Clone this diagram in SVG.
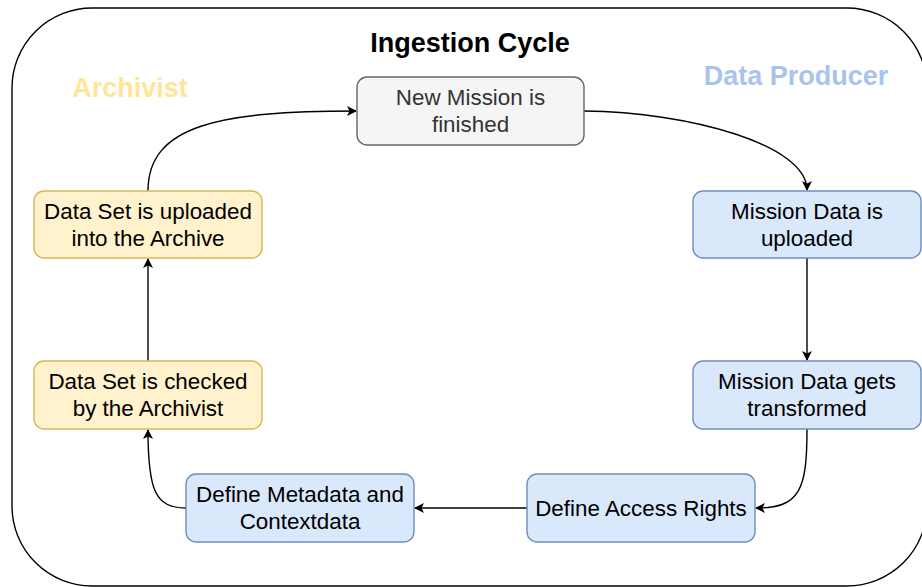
<svg xmlns="http://www.w3.org/2000/svg" width="922" height="587" viewBox="0 0 922 587">
  <defs>
    <style>
      .frame { fill: #ffffff; stroke: #000000; stroke-width: 1.4; }
      .box { stroke-width: 1.4; }
      .gray { fill: #f5f5f5; stroke: #666666; }
      .yellow { fill: #fff2cc; stroke: #d6b656; }
      .blue { fill: #dae8fc; stroke: #6c8ebf; }
      .label { font-family: "Liberation Sans", Arial, Helvetica, sans-serif; font-size: 22.4px; text-anchor: middle; fill: #000000; }
      .label.dim { fill: #333333; }
      .heading { font-family: "Liberation Sans", Arial, Helvetica, sans-serif; font-size: 27px; font-weight: bold; text-anchor: middle; }
      .edge { fill: none; stroke: #000000; stroke-width: 1.4; marker-end: url(#arrow); }
    </style>
    <marker id="arrow" viewBox="0 0 10 10" refX="9" refY="5" markerWidth="10" markerHeight="10" markerUnits="userSpaceOnUse" orient="auto">
      <path d="M0,0 L10,5 L0,10 L2.5,5 Z" fill="#000000"/>
    </marker>
  </defs>

  <!-- outer container -->
  <rect class="frame" x="12" y="8" width="915" height="578" rx="80" ry="80"/>

  <!-- headings -->
  <text class="heading" x="470" y="52" fill="#000000">Ingestion Cycle</text>
  <text class="heading" x="130" y="97" fill="#ffe599">Archivist</text>
  <text class="heading" x="796" y="85" fill="#a9c4eb">Data Producer</text>

  <!-- connectors -->
  <g id="connectors">
    <path class="edge" d="M584,111 C690,112 807,145 807,190"/>
    <path class="edge" d="M807,258 L807,360"/>
    <path class="edge" d="M807,429 C807,490 800,508 756,508"/>
    <path class="edge" d="M527,508 L415,508"/>
    <path class="edge" d="M186,508 C155,508 148,490 148,430"/>
    <path class="edge" d="M148,361 L148,259"/>
    <path class="edge" d="M148,191 C148,125 220,111 356,111"/>
  </g>

  <!-- nodes -->
  <g id="node-new-mission">
    <rect class="box gray" x="357" y="77" width="227" height="68" rx="10" ry="10"/>
    <text class="label dim" x="470.5" y="105">New Mission is</text>
    <text class="label dim" x="470.5" y="132">finished</text>
  </g>

  <g id="node-mission-uploaded">
    <rect class="box blue" x="693" y="191" width="228" height="67" rx="10" ry="10"/>
    <text class="label" x="807" y="219">Mission Data is</text>
    <text class="label" x="807" y="246">uploaded</text>
  </g>

  <g id="node-mission-transformed">
    <rect class="box blue" x="693" y="361" width="228" height="68" rx="10" ry="10"/>
    <text class="label" x="807" y="389">Mission Data gets</text>
    <text class="label" x="807" y="416">transformed</text>
  </g>

  <g id="node-access-rights">
    <rect class="box blue" x="527" y="474" width="228" height="68" rx="10" ry="10"/>
    <text class="label" x="641" y="516">Define Access Rights</text>
  </g>

  <g id="node-metadata">
    <rect class="box blue" x="186" y="474" width="228" height="68" rx="10" ry="10"/>
    <text class="label" x="300" y="502">Define Metadata and</text>
    <text class="label" x="300" y="529">Contextdata</text>
  </g>

  <g id="node-dataset-checked">
    <rect class="box yellow" x="34" y="361" width="228" height="68" rx="10" ry="10"/>
    <text class="label" x="148" y="389">Data Set is checked</text>
    <text class="label" x="148" y="416">by the Archivist</text>
  </g>

  <g id="node-dataset-uploaded">
    <rect class="box yellow" x="34" y="191" width="228" height="67" rx="10" ry="10"/>
    <text class="label" x="148" y="219">Data Set is uploaded</text>
    <text class="label" x="148" y="246">into the Archive</text>
  </g>
</svg>
